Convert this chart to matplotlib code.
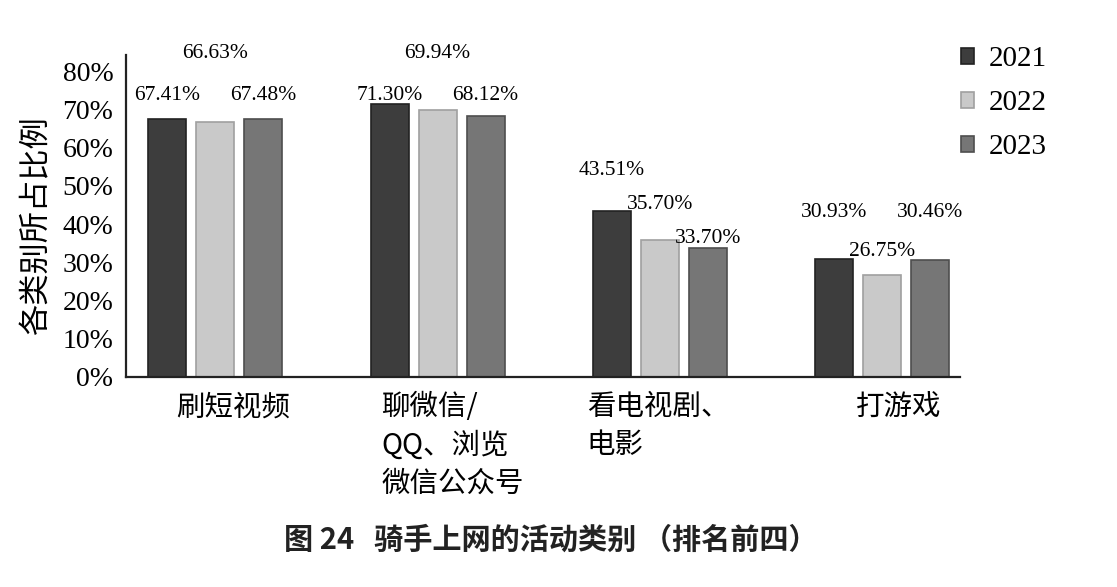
import matplotlib.pyplot as plt
import matplotlib.transforms as mtransforms
import numpy as np

# Data
categories = ['刷短视频', '聊微信/\nQQ、浏览\n微信公众号', '看电视剧、\n电影', '打游戏']
years = ['2021', '2022', '2023']
vals_2021 = [67.41, 71.30, 43.51, 30.93]
vals_2022 = [66.63, 69.94, 35.70, 26.75]
vals_2023 = [67.48, 68.12, 33.70, 30.46]

# where the value labels sit (in % units), as in the original figure
label_y_2021 = [73.7, 73.7, 54.1, 43.1]
label_y_2022 = [84.7, 84.7, 45.2, 32.7]
label_y_2023 = [73.7, 73.7, 36.1, 43.1]

# horizontal nudge of each category label, inches
cat_shift = [0.18, 0.15, -0.02, 0.16]

colors = ['#3d3d3d', '#c9c9c9', '#767676']
edges = ['#222222', '#a0a0a0', '#4e4e4e']

serif = 'Liberation Serif'
cjk = ['Noto Sans CJK SC', 'DejaVu Sans']

fig = plt.figure(figsize=(11.17, 5.87), dpi=100)
ax = fig.add_axes([0.1128, 0.3578, 0.7466, 0.5485])

x = np.arange(len(categories))
width = 0.171
step = 0.216
series = [vals_2021, vals_2022, vals_2023]
label_ys = [label_y_2021, label_y_2022, label_y_2023]

for i, (vals, ly) in enumerate(zip(series, label_ys)):
    pos = x + (i - 1) * step
    ax.bar(pos, vals, width, color=colors[i], edgecolor=edges[i],
           linewidth=1.2, label=years[i])
    for px, v, yy in zip(pos, vals, ly):
        ax.text(px, yy, f'{v:.2f}%', ha='center', va='center',
                fontsize=15.5, family=serif, clip_on=False)

ax.set_xlim(-0.402, 3.35)
ax.set_ylim(0, 84.2)
ax.set_yticks(range(0, 81, 10))
ax.set_yticklabels([f'{t}%' for t in range(0, 81, 10)], family=serif, fontsize=20)
ax.set_xticks(x)
ax.set_xticklabels(categories, family=cjk, fontsize=20.5, va='top',
                   multialignment='left', linespacing=1.35)
ax.tick_params(axis='both', length=0)
ax.tick_params(axis='y', pad=9)
ax.tick_params(axis='x', pad=11)

# the category labels are not exactly centred under their groups
for lab, dx in zip(ax.get_xticklabels(), cat_shift):
    shift = mtransforms.ScaledTranslation(dx, 0, fig.dpi_scale_trans)
    lab.set_transform(lab.get_transform() + shift)

for s in ['top', 'right']:
    ax.spines[s].set_visible(False)
for s in ['left', 'bottom']:
    ax.spines[s].set_linewidth(1.6)
    ax.spines[s].set_color('#222222')

ax.set_ylabel('各类别所占比例', family=cjk, fontsize=22.5)
ax.yaxis.set_label_coords(-0.088, 0.47)

fig.legend(loc='upper left', bbox_to_anchor=(0.837, 0.966), frameon=False,
           prop={'family': serif, 'size': 21}, handlelength=0.45,
           handleheight=0.45, handletextpad=0.5, labelspacing=0.62)

fig.text(0.493, 0.080, '图 24   骑手上网的活动类别 （排名前四）', ha='center',
         va='center', family=cjk, fontsize=21, weight='bold', color='#222222')

fig.savefig('out.png', dpi=100)
